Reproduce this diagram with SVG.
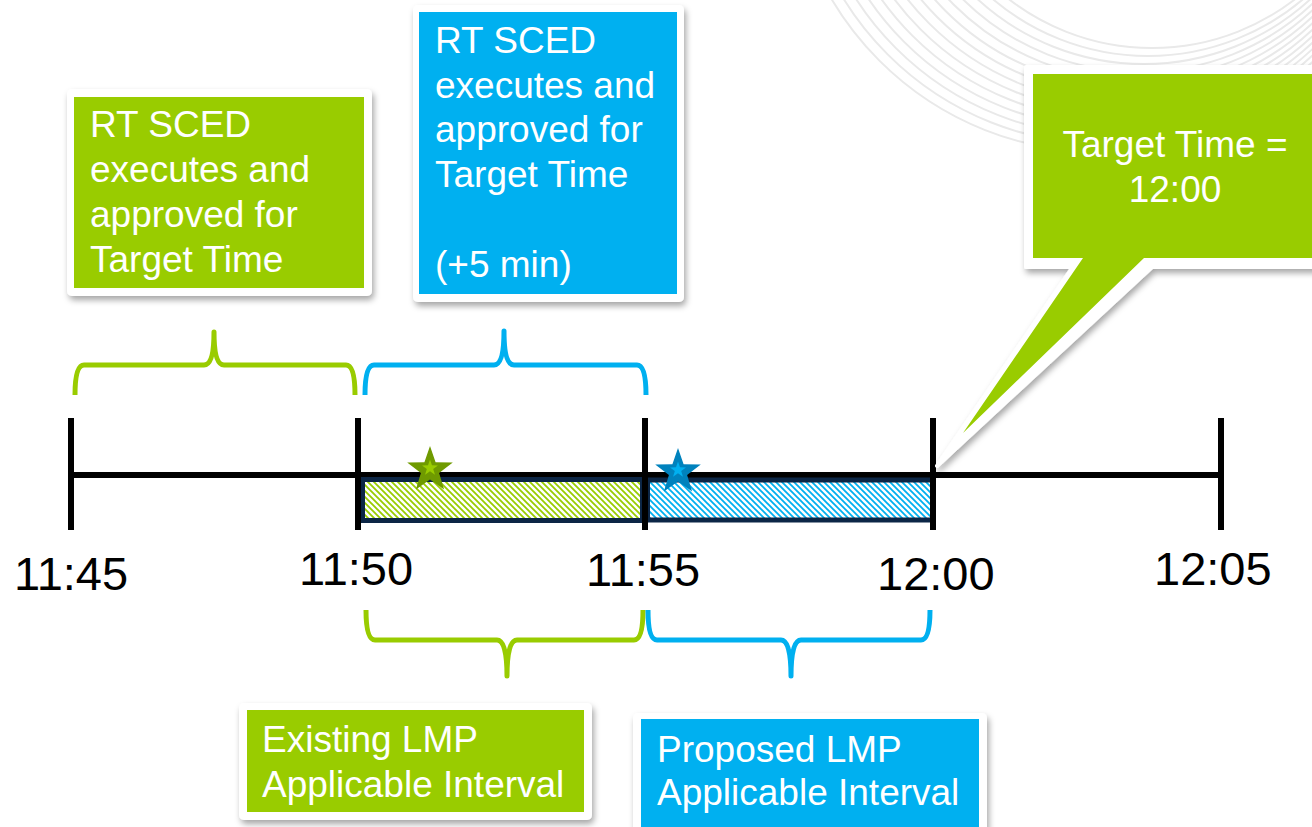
<svg xmlns="http://www.w3.org/2000/svg" width="1312" height="827" viewBox="0 0 1312 827">
<defs>
<style>
.lbl{font-family:"Liberation Sans",Arial,sans-serif;font-size:37px;fill:#ffffff}
.time{font-family:"Liberation Sans",Arial,sans-serif;font-size:47px;fill:#000000}
.frame{fill:#ffffff}
.g{fill:#99cc00}
.b{fill:#00b0f0}
.tick{stroke:#000;stroke-width:6;fill:none}
.braceG{stroke:#99cc00;stroke-width:5;fill:none;stroke-linejoin:round;stroke-linecap:butt}
.braceB{stroke:#00b0f0;stroke-width:5;fill:none;stroke-linejoin:round;stroke-linecap:butt}
.arc{stroke:#e9e9e9;stroke-width:2;fill:none}
</style>
<filter id="sh" x="-10%" y="-10%" width="130%" height="130%">
<feDropShadow dx="2" dy="4" stdDeviation="3" flood-color="#000" flood-opacity="0.35"/>
</filter>
<pattern id="hatchG" patternUnits="userSpaceOnUse" width="6" height="6">
<rect width="6" height="6" fill="#ffffff"/>
<path d="M-1,-1 L7,7 M-1,5 L1,7 M5,-1 L7,1" stroke="#99cc00" stroke-width="1.8"/>
</pattern>
<pattern id="hatchB" patternUnits="userSpaceOnUse" width="6" height="6">
<rect width="6" height="6" fill="#ffffff"/>
<path d="M-1,-1 L7,7 M-1,5 L1,7 M5,-1 L7,1" stroke="#00b0f0" stroke-width="1.8"/>
</pattern>
<path id="star" d="M0,-24 L5.6,-7.7 L22.8,-7.4 L9.1,3 L14.1,19.4 L0,9.5 L-14.1,19.4 L-9.1,3 L-22.8,-7.4 L-5.6,-7.7 Z"/>
</defs>

<g id="background">
<circle class="arc" cx="1100" cy="-160" r="312"/>
<circle class="arc" cx="1104" cy="-162" r="306"/>
<circle class="arc" cx="1108" cy="-164" r="300"/>
<circle class="arc" cx="1112" cy="-166" r="294"/>
<circle class="arc" cx="1116" cy="-168" r="288"/>
<circle class="arc" cx="1120" cy="-170" r="282"/>
<circle class="arc" cx="1124" cy="-172" r="276"/>
<circle class="arc" cx="1128" cy="-174" r="270"/>
<circle class="arc" cx="1132" cy="-176" r="264"/>
<circle class="arc" cx="1136" cy="-178" r="258"/>
<circle class="arc" cx="1140" cy="-180" r="252"/>
<circle class="arc" cx="1144" cy="-182" r="246"/>
<circle class="arc" cx="1148" cy="-184" r="240"/>
<circle class="arc" cx="1152" cy="-186" r="234"/>
</g>

<g id="connectors">
<line x1="70" y1="475" x2="1222" y2="475" stroke="#000" stroke-width="6"/>
<path class="braceG" d="M75,395 Q75,365 84,365 L204,365 Q214,365 214,332 Q214,365 224,365 L346,365 Q355,365 355,395"/>
<path class="braceB" d="M365,395 Q365,365 374,365 L494,365 Q504,365 504,331 Q504,365 514,365 L637,365 Q646,365 646,395"/>
<path class="braceG" d="M366,610 Q366,640 375,640 L497,640 Q507,640 507,676 Q507,640 517,640 L634,640 Q643,640 643,610"/>
<path class="braceB" d="M648,610 Q648,640 657,640 L781,640 Q791,640 791,676 Q791,640 801,640 L921,640 Q930,640 930,610"/>
</g>

<g id="bar-existing">
<rect x="362.5" y="479.5" width="280" height="41" fill="url(#hatchG)" stroke="#0c2646" stroke-width="5"/>
</g>
<g id="bar-proposed">
<rect x="647.5" y="480" width="286" height="40" fill="url(#hatchB)" stroke="#0c2646" stroke-width="5"/>
</g>

<g id="ticks">
<line class="tick" x1="71" y1="418" x2="71" y2="530"/>
<line class="tick" x1="358" y1="418" x2="358" y2="530"/>
<line class="tick" x1="645" y1="418" x2="645" y2="530"/>
<line class="tick" x1="933" y1="418" x2="933" y2="530"/>
<line class="tick" x1="1221" y1="418" x2="1221" y2="530"/>
</g>

<g id="star-green">
<use href="#star" transform="translate(430,470)" fill="#6f9a00"/>
<use href="#star" transform="translate(430,468) scale(0.35)" fill="#99cc00"/>
</g>
<g id="star-blue">
<use href="#star" transform="translate(678,472)" fill="#0082bd"/>
<use href="#star" transform="translate(678,470) scale(0.35)" fill="#00b0f0"/>
</g>

<g id="time-labels">
<text class="time" x="14" y="590">11:45</text>
<text class="time" x="299" y="585">11:50</text>
<text class="time" x="586" y="586">11:55</text>
<text class="time" x="877" y="590">12:00</text>
<text class="time" x="1154" y="585">12:05</text>
</g>

<g id="box-existing-exec">
<rect class="frame" x="67" y="89" width="305" height="207" rx="5" filter="url(#sh)"/>
<rect class="g" x="74" y="97" width="290" height="191"/>
<text class="lbl" x="90" y="137">RT SCED</text>
<text class="lbl" x="90" y="182">executes and</text>
<text class="lbl" x="90" y="227">approved for</text>
<text class="lbl" x="90" y="272">Target Time</text>
</g>

<g id="box-proposed-exec">
<rect class="frame" x="413" y="5" width="271" height="297" rx="5" filter="url(#sh)"/>
<rect class="b" x="419" y="12" width="258" height="282"/>
<text class="lbl" x="435" y="53">RT SCED</text>
<text class="lbl" x="435" y="98">executes and</text>
<text class="lbl" x="435" y="142">approved for</text>
<text class="lbl" x="435" y="187">Target Time</text>
<text class="lbl" x="435" y="277">(+5 min)</text>
</g>

<g id="callout-target">
<path d="M1026,67 H1320 V267 H1152 L937,466 L1073,267 H1026 Z" fill="#ffffff" stroke="#ffffff" stroke-width="4" stroke-linejoin="round" filter="url(#sh)"/>
<path class="g" d="M1033,74 H1320 V258 H1144 L963,433 L1083,258 H1033 Z"/>
<text class="lbl" x="1175" y="157" text-anchor="middle">Target Time =</text>
<text class="lbl" x="1175" y="202" text-anchor="middle">12:00</text>
</g>

<g id="box-existing-lmp">
<rect class="frame" x="239" y="703" width="353" height="117" rx="5" filter="url(#sh)"/>
<rect class="g" x="247" y="710" width="337" height="102"/>
<text class="lbl" x="262" y="752">Existing LMP</text>
<text class="lbl" x="262" y="797">Applicable Interval</text>
</g>

<g id="box-proposed-lmp">
<rect class="frame" x="633" y="713" width="354" height="124" rx="5" filter="url(#sh)"/>
<rect class="b" x="641" y="719" width="338" height="110"/>
<text class="lbl" x="657" y="762">Proposed LMP</text>
<text class="lbl" x="657" y="805">Applicable Interval</text>
</g>
</svg>
